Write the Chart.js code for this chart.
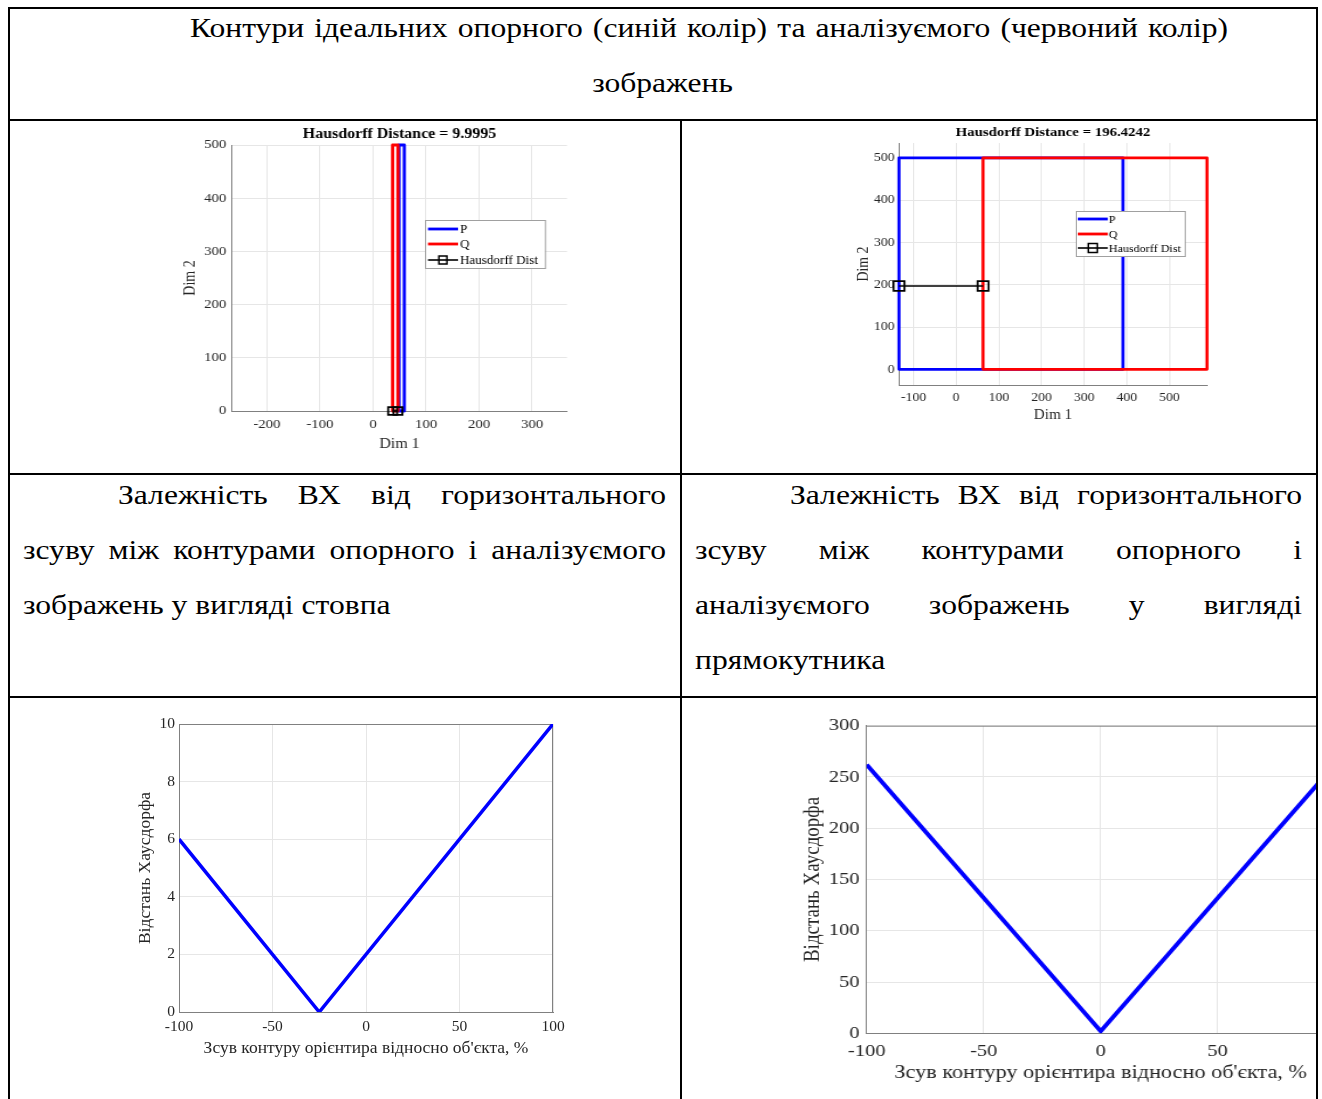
<!DOCTYPE html>
<html>
<head>
<meta charset="utf-8">
<script src="https://cdn.jsdelivr.net/npm/chart.js@4.4.1/dist/chart.umd.min.js"></script>
<style>
html, body { margin: 0; padding: 0; background: #fff; }
body { width: 1322px; height: 1099px; overflow: hidden; position: relative; font-family: 'Liberation Serif', 'Times New Roman', serif; color: #000; }
.ln { position: absolute; background: #000; z-index: 5; }
.txt { position: absolute; font-size: 27px; line-height: 55px; height: 55px; white-space: nowrap; transform-origin: 0 0; }
.j { text-align: justify; text-align-last: justify; }
.cell { position: absolute; overflow: hidden; }
canvas { display: block; transform-origin: 0 0; }
</style>
</head>
<body>

<div id="texts"></div>

<div class="cell" style="left:10px; top:121px; width:670px; height:352px;"><canvas id="c1"></canvas></div>
<div class="cell" style="left:682px; top:121px; width:634px; height:352px;"><canvas id="c2"></canvas></div>
<div class="cell" style="left:10px; top:698px; width:670px; height:401px;"><canvas id="c3"></canvas></div>
<div class="cell" style="left:682px; top:698px; width:634px; height:401px;"><canvas id="c4"></canvas></div>

<div class="ln" style="left:8px; top:7px; width:1310px; height:2px;"></div>
<div class="ln" style="left:8px; top:7px; width:2px; height:1092px;"></div>
<div class="ln" style="left:1316px; top:7px; width:2px; height:1092px;"></div>
<div class="ln" style="left:8px; top:119px; width:1310px; height:2px;"></div>
<div class="ln" style="left:680px; top:119px; width:2px; height:980px;"></div>
<div class="ln" style="left:8px; top:473px; width:1310px; height:2px;"></div>
<div class="ln" style="left:8px; top:696px; width:1310px; height:2px;"></div>

<script>
// контури: стовп
const colP_x = [49, 59, 59, 49, 49];
const colP_y = [0, 0, 500, 500, 0];
const colQ_x = [37, 47, 47, 37, 37];
const colQ_y = [0, 0, 500, 500, 0];
const colHd_x = [37, 47];
const colHd_y = [0, 0];
const colTicksX = [-200, -100, 0, 100, 200, 300];
const colTicksY = [0, 100, 200, 300, 400, 500];

// контури: прямокутник
const rectP_x = [-134, 391, 391, -134, -134];
const rectP_y = [0, 0, 500, 500, 0];
const rectQ_x = [63, 588, 588, 63, 63];
const rectQ_y = [0, 0, 500, 500, 0];
const rectHd_x = [-134, 63];
const rectHd_y = [197, 197];
const rectTicksX = [-100, 0, 100, 200, 300, 400, 500];
const rectTicksY = [0, 100, 200, 300, 400, 500];

// залежності ВХ від зсуву
const shiftCol = [-100, -25, 100];
const hdCol = [6, 0, 10];
const shiftRect = [-100, 0, 100];
const hdRect = [262, 2, 262];
const shiftTicks = [-100, -50, 0, 50, 100];
const hdColTicks = [0, 2, 4, 6, 8, 10];
const hdRectTicks = [0, 50, 100, 150, 200, 250, 300];

const legendNames = ['P', 'Q', 'Hausdorff Dist'];

// рядки тексту таблиці: [текст, left, top, width, вирівнювання]
const TEXT_SX = 1.17;
const textLines = [
    ['Контури ідеальних опорного (синій колір) та аналізуємого (червоний колір)', 190, 1, 1038, 'j'],
    ['зображень', 23, 56, 1279, 'c'],
    ['Залежність ВХ від горизонтального', 118, 468, 548, 'j'],
    ['зсуву між контурами опорного і аналізуємого', 23, 523, 643, 'j'],
    ['зображень у вигляді стовпа', 23, 578, 643, 'l'],
    ['Залежність ВХ від горизонтального', 790, 468, 512, 'j'],
    ['зсуву між контурами опорного і', 695, 523, 607, 'j'],
    ['аналізуємого зображень у вигляді', 695, 578, 607, 'j'],
    ['прямокутника', 695, 633, 607, 'l']
];

const textBox = document.getElementById('texts');
textLines.forEach(([t, x, y, w, al]) => {
    const d = document.createElement('div');
    d.className = 'txt' + (al === 'j' ? ' j' : '');
    if (al === 'c') d.style.textAlign = 'center';
    d.style.left = x + 'px';
    d.style.top = y + 'px';
    d.style.width = (w / TEXT_SX) + 'px';
    d.style.transform = 'scaleX(' + TEXT_SX + ')';
    d.textContent = t;
    textBox.appendChild(d);
});

Chart.defaults.font.family = "'Liberation Serif', 'Times New Roman', serif";
Chart.defaults.color = '#262626';
Chart.defaults.animation = false;

const AXIS_GREY = '#808080';
const GRID_GREY = '#e6e6e6';

function pts(xs, ys) {
    return xs.map((x, i) => ({ x: x, y: ys[i] }));
}

// рамка (box on)
const framePlugin = {
    id: 'frame',
    beforeDatasetsDraw(chart, args, opts) {
        if (!opts.show) return;
        const a = chart.chartArea, ctx = chart.ctx;
        ctx.save();
        ctx.strokeStyle = AXIS_GREY;
        ctx.lineWidth = 1;
        ctx.beginPath();
        ctx.moveTo(a.left, a.top + 0.5);
        ctx.lineTo(a.right - 0.5, a.top + 0.5);
        ctx.lineTo(a.right - 0.5, a.bottom);
        ctx.stroke();
        ctx.restore();
    }
};

// легенда в стилі MATLAB
const boxLegend = {
    id: 'boxLegend',
    afterDraw(chart, args, o) {
        if (!o.show) return;
        const ctx = chart.ctx, a = chart.chartArea, k = o.sx;
        const x = Math.round(a.left + o.x / k), y = Math.round(a.top + o.y);
        const w = o.w / k;
        ctx.save();
        ctx.fillStyle = '#fff';
        ctx.fillRect(x, y, w, o.h);
        ctx.strokeStyle = '#a0a0a0';
        ctx.lineWidth = 1;
        ctx.strokeRect(x + 0.5, y + 0.5, w, o.h);
        ctx.font = o.size + "px 'Liberation Serif'";
        ctx.textBaseline = 'middle';
        chart.data.datasets.forEach((ds, i) => {
            const ly = y + o.rows[i];
            ctx.strokeStyle = ds.borderColor;
            ctx.lineWidth = ds.borderWidth;
            ctx.beginPath();
            ctx.moveTo(x + o.lx0 / k, ly);
            ctx.lineTo(x + o.lx1 / k, ly);
            ctx.stroke();
            if (ds.pointRadius > 0) {
                const s = o.mark;
                const mx = x + (o.lx0 + o.lx1) / 2 / k;
                ctx.lineWidth = 1.5;
                ctx.strokeRect(mx - s / 2 / k, ly - s / 2, s / k, s);
            }
            ctx.fillStyle = '#000';
            ctx.fillText(ds.label, x + o.tx / k, ly + 1);
        });
        ctx.restore();
    }
};

function axis(o) {
    return {
        type: 'linear',
        min: o.min,
        max: o.max,
        afterBuildTicks: s => { s.ticks = o.ticks.map(v => ({ value: v })); },
        afterFit: s => {
            if (o.horizontal) { s.height = o.size; s.paddingLeft = 0; s.paddingRight = 0; }
            else { s.width = o.size; s.paddingTop = 0; s.paddingBottom = 0; }
        },
        grid: { color: GRID_GREY, drawTicks: false },
        border: { color: AXIS_GREY, width: 1 },
        ticks: { font: { size: o.tickSize }, padding: o.tickPad, color: '#262626', maxRotation: 0, autoSkip: false },
        title: {
            display: true, text: o.title, color: '#262626',
            font: { size: o.titleSize },
            padding: o.horizontal ? { top: 0, bottom: 1 } : { top: 1, bottom: 0 }
        }
    };
}

// cv: полотно (координати сторінки, sx - горизонтальне розтягнення), ar: область графіка
function makePlot(id, cv, ar, spec) {
    const sx = cv.sx || 1;
    const loc = X => cv.x + (X - cv.x) / sx;
    const arL = loc(ar.l), arR = loc(ar.r);
    const cw = cv.w / sx;
    const el = document.getElementById(id);
    el.width = Math.round(cw);
    el.height = cv.h;
    el.style.transform = 'scaleX(' + sx + ')';

    const xlh = spec.xTitleSize * 1.2, ylh = spec.yTitleSize * 1.2;
    const yW = arL - (loc(spec.yTitleX) - ylh / 2 - 1);
    const xH = (spec.xTitleY + xlh / 2 + 1) - ar.b;
    let titleCfg = { display: false };
    if (spec.title) {
        const tlh = spec.titleSize * 1.2;
        const titleH = ar.t - cv.y;
        const pt = spec.titleY - cv.y - tlh / 2;
        titleCfg = {
            display: true, text: spec.title, fullSize: false, color: '#000',
            font: { size: spec.titleSize, weight: 'bold' },
            padding: { top: pt, bottom: titleH - tlh - pt }
        };
    }
    const legend = spec.legend ? Object.assign({ sx: sx }, spec.legend) : { show: false };
    return new Chart(el, {
        type: 'scatter',
        data: { datasets: spec.datasets },
        options: {
            responsive: false,
            layout: {
                padding: {
                    left: arL - cv.x - yW,
                    right: cv.x + Math.round(cw) - arR,
                    top: spec.title ? 0 : ar.t - cv.y,
                    bottom: cv.y + cv.h - ar.b - xH
                }
            },
            plugins: {
                legend: { display: false },
                tooltip: { enabled: false },
                title: titleCfg,
                frame: { show: !!spec.box },
                boxLegend: legend
            },
            scales: {
                x: axis({ horizontal: true, min: spec.xMin, max: spec.xMax, ticks: spec.xTicks, size: xH,
                    tickSize: spec.tickSize, tickPad: spec.xTickPad, title: spec.xTitle, titleSize: spec.xTitleSize }),
                y: axis({ horizontal: false, min: spec.yMin, max: spec.yMax, ticks: spec.yTicks, size: yW,
                    tickSize: spec.tickSize, tickPad: spec.yTickPad, title: spec.yTitle, titleSize: spec.yTitleSize })
            }
        },
        plugins: [framePlugin, boxLegend]
    });
}

function contourSets(px, py, qx, qy, hx, hy, lw, mark) {
    return [
        { label: legendNames[0], data: pts(px, py), showLine: true, borderColor: '#0000ff', borderWidth: lw, pointRadius: 0, borderJoinStyle: 'round', clip: false, order: 2 },
        { label: legendNames[1], data: pts(qx, qy), showLine: true, borderColor: '#ff0000', borderWidth: lw, pointRadius: 0, borderJoinStyle: 'round', clip: false, order: 1 },
        { label: legendNames[2], data: pts(hx, hy), showLine: true, borderColor: '#000000', borderWidth: 1.6, clip: false,
          pointStyle: 'rect', pointRadius: mark, pointBorderColor: '#000', pointBackgroundColor: 'rgba(0,0,0,0)', pointBorderWidth: 1.8, order: 0 }
    ];
}

makePlot('c1', { x: 10, y: 121, w: 670, h: 352, sx: 1.14 }, { l: 232, t: 145, r: 567, b: 411 }, {
    title: 'Hausdorff Distance = 9.9995', titleY: 134, titleSize: 14,
    datasets: contourSets(colP_x, colP_y, colQ_x, colQ_y, colHd_x, colHd_y, 2.8, 5.5),
    xMin: -266, xMax: 366, xTicks: colTicksX, yMin: 0, yMax: 500, yTicks: colTicksY,
    tickSize: 13, xTickPad: 6, yTickPad: 5,
    xTitle: 'Dim 1', xTitleY: 444, xTitleSize: 14,
    yTitle: 'Dim 2', yTitleX: 191, yTitleSize: 14,
    legend: { show: true, x: 193, y: 75, w: 120, h: 48, rows: [9, 24, 40], lx0: 3, lx1: 33, tx: 35, size: 11.5, mark: 8 }
});

makePlot('c2', { x: 682, y: 121, w: 634, h: 352, sx: 1.1 }, { l: 899, t: 143, r: 1207, b: 385 }, {
    title: 'Hausdorff Distance = 196.4242', titleY: 133, titleSize: 13.5,
    datasets: contourSets(rectP_x, rectP_y, rectQ_x, rectQ_y, rectHd_x, rectHd_y, 2.8, 7),
    xMin: -134, xMax: 588, xTicks: rectTicksX, yMin: -37, yMax: 535, yTicks: rectTicksY,
    tickSize: 12.5, xTickPad: 5, yTickPad: 4,
    xTitle: 'Dim 1', xTitleY: 415, xTitleSize: 13.8,
    yTitle: 'Dim 2', yTitleX: 864, yTitleSize: 13.8,
    legend: { show: true, x: 177, y: 68, w: 109, h: 45, rows: [8, 23, 37], lx0: 2, lx1: 32, tx: 33, size: 11, mark: 9 }
});

makePlot('c3', { x: 10, y: 698, w: 670, h: 401, sx: 1 }, { l: 179, t: 724, r: 553, b: 1012 }, {
    box: true,
    datasets: [{ label: 'ВХ', data: pts(shiftCol, hdCol), showLine: true, borderColor: '#0000ff', borderWidth: 3.5, pointRadius: 0 }],
    xMin: -100, xMax: 100, xTicks: shiftTicks, yMin: 0, yMax: 10, yTicks: hdColTicks,
    tickSize: 15.5, xTickPad: 6, yTickPad: 4,
    xTitle: 'Зсув контуру орієнтира відносно об\'єкта, %', xTitleY: 1048, xTitleSize: 17.5,
    yTitle: 'Відстань Хаусдорфа', yTitleX: 145, yTitleSize: 17.5
});

makePlot('c4', { x: 682, y: 698, w: 700, h: 401, sx: 1.17 }, { l: 866.7, t: 725.7, r: 1334.7, b: 1033.3 }, {
    box: true,
    datasets: [{ label: 'ВХ', data: pts(shiftRect, hdRect), showLine: true, borderColor: '#0000ff', borderWidth: 3.8, pointRadius: 0 }],
    xMin: -100, xMax: 100, xTicks: shiftTicks, yMin: 0, yMax: 300, yTicks: hdRectTicks,
    tickSize: 17.5, xTickPad: 8, yTickPad: 6,
    xTitle: 'Зсув контуру орієнтира відносно об\'єкта, %', xTitleY: 1072.7, xTitleSize: 19,
    yTitle: 'Відстань Хаусдорфа', yTitleX: 813, yTitleSize: 19
});
</script>
</body>
</html>
